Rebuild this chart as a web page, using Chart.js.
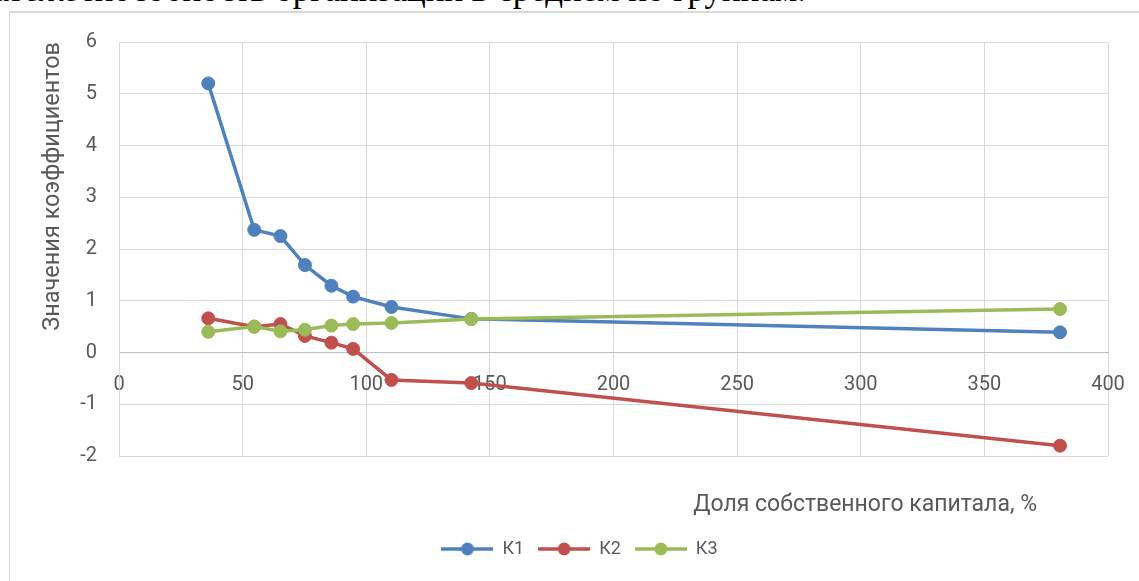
<!DOCTYPE html>
<html lang="ru">
<head>
<meta charset="utf-8">
<title>Коэффициенты и доля собственного капитала</title>
<script src="https://cdn.jsdelivr.net/npm/chart.js@4.4.1/dist/chart.umd.min.js"></script>
<style>
  html, body { margin: 0; padding: 0; width: 1139px; height: 581px; overflow: hidden; background: #fff; }
  body { position: relative; }
  .doc-line { position: absolute; right: 333px; top: -28px; font: 35px/35px "Liberation Serif", "Times New Roman", serif; color: #000; white-space: nowrap; }
  .frame { position: absolute; left: 9px; top: 11px; width: 1200px; height: 700px; border-left: 1px solid #d9d9d9; border-top: 2px solid #d9d9d9; }
  .chart-wrap { position: absolute; left: 11px; top: 13px; width: 1128px; height: 568px; }
</style>
</head>
<body>
<div class="doc-line">платежеспособность организации в среднем по группам.</div>
<div class="frame"></div>
<div class="chart-wrap"><canvas id="coef-chart"></canvas></div>
<script>
// доля собственного капитала по группам, %
const equityShare = [36.1, 54.7, 65.3, 75.2, 85.9, 94.7, 110.2, 142.5, 380.6];
const k1Values = [5.20, 2.37, 2.25, 1.69, 1.29, 1.08, 0.88, 0.65, 0.39];
const k2Values = [0.66, 0.50, 0.55, 0.32, 0.19, 0.07, -0.53, -0.59, -1.80];
const k3Values = [0.40, 0.50, 0.41, 0.44, 0.52, 0.55, 0.57, 0.645, 0.84];
const seriesNames = ["К1", "К2", "К3"];
const seriesColors = ["#4f81bd", "#c0504d", "#9bbb59"];
const xTickValues = [0, 50, 100, 150, 200, 250, 300, 350, 400];
const yTickValues = [-2, -1, 0, 1, 2, 3, 4, 5, 6];

const textColor = "#595959";
const gridColor = "#d9d9d9";
const fontFamily = "Roboto, 'Noto Sans', sans-serif";

const seriesValues = [k1Values, k2Values, k3Values];

function toPoints(values) {
  return equityShare.map((x, i) => ({ x: x, y: values[i] }));
}

// значок легенды: отрезок линии с маркером посередине
function legendSwatch(color) {
  const c = document.createElement("canvas");
  c.width = 52;
  c.height = 14;
  const g = c.getContext("2d");
  g.strokeStyle = color;
  g.lineWidth = 3.5;
  g.beginPath();
  g.moveTo(0, 7);
  g.lineTo(52, 7);
  g.stroke();
  g.fillStyle = color;
  g.beginPath();
  g.arc(26, 7, 6.5, 0, Math.PI * 2);
  g.fill();
  return c;
}
const swatches = seriesColors.map(legendSwatch);

// полоса между графиком и легендой с подписью оси X (прижата вправо, как в Excel)
const axisCaption = {
  id: "axisCaption",
  beforeInit(chart, args, opts) {
    const box = {
      position: "bottom",
      weight: 500,
      fullSize: false,
      options: {},
      left: 0, top: 0, right: 0, bottom: 0, width: 0, height: 0,
      isHorizontal() { return true; },
      getPadding() { return { top: 0, left: 0, right: 0, bottom: 0 }; },
      update(maxWidth) {
        this.width = maxWidth;
        this.height = opts.height;
      },
      draw() {
        const ctx = chart.ctx;
        ctx.save();
        ctx.font = opts.font;
        ctx.fillStyle = opts.color;
        ctx.textAlign = "right";
        ctx.textBaseline = "middle";
        ctx.fillText(opts.text, this.right - opts.inset, this.top + opts.offset);
        ctx.restore();
      }
    };
    Chart.layouts.addBox(chart, box);
  }
};

const datasets = seriesNames.map((name, i) => ({
  label: name,
  data: toPoints(seriesValues[i]),
  showLine: true,
  borderColor: seriesColors[i],
  backgroundColor: seriesColors[i],
  borderWidth: 3.5,
  pointRadius: 6.5,
  pointBorderWidth: 1,
  pointHoverRadius: 6.5,
  order: seriesNames.length - i // К3 рисуется поверх
}));

new Chart(document.getElementById("coef-chart"), {
  type: "scatter",
  data: { datasets: datasets },
  plugins: [axisCaption],
  options: {
    responsive: true,
    maintainAspectRatio: false,
    animation: false,
    events: [],
    layout: { padding: { top: 29, left: 40, right: 31, bottom: 13 } },
    scales: {
      x: {
        type: "linear",
        position: { y: 0 },
        min: 0,
        max: 400,
        afterBuildTicks: (s) => { s.ticks = xTickValues.map((v) => ({ value: v })); },
        // отступ подписей не должен сжимать область построения
        afterFit: (s) => { s.paddingLeft = 0; s.paddingRight = 0; },
        grid: { color: gridColor, drawTicks: false },
        border: { color: "#bfbfbf" },
        ticks: { color: textColor, padding: 20, maxRotation: 0, autoSkip: false, font: { family: fontFamily, size: 20 } }
      },
      y: {
        type: "linear",
        min: -2,
        max: 6,
        afterBuildTicks: (s) => { s.ticks = yTickValues.map((v) => ({ value: v })); },
        afterFit: (s) => { s.width = 68; s.paddingTop = 0; s.paddingBottom = 0; },
        grid: { color: gridColor, drawTicks: false },
        border: { color: gridColor },
        ticks: { color: textColor, padding: 22, font: { family: fontFamily, size: 20 } },
        title: {
          display: true,
          text: "Значения коэффициентов",
          align: "end",
          color: textColor,
          padding: { top: -12, bottom: 0 },
          font: { family: fontFamily, size: 23.5 }
        }
      }
    },
    plugins: {
      tooltip: { enabled: false },
      axisCaption: {
        text: "Доля собственного капитала, %",
        font: "23px " + fontFamily,
        color: textColor,
        height: 70,
        inset: 71,
        offset: 49
      },
      legend: {
        position: "bottom",
        labels: {
          color: textColor,
          font: { family: fontFamily, size: 18 },
          padding: 14,
          usePointStyle: true,
          pointStyleWidth: 52,
          sort: (a, b) => a.datasetIndex - b.datasetIndex,
          generateLabels(chart) {
            const items = Chart.defaults.plugins.legend.labels.generateLabels(chart);
            items.forEach((item) => { item.pointStyle = swatches[item.datasetIndex]; });
            return items;
          }
        }
      }
    }
  }
});
</script>
</body>
</html>
